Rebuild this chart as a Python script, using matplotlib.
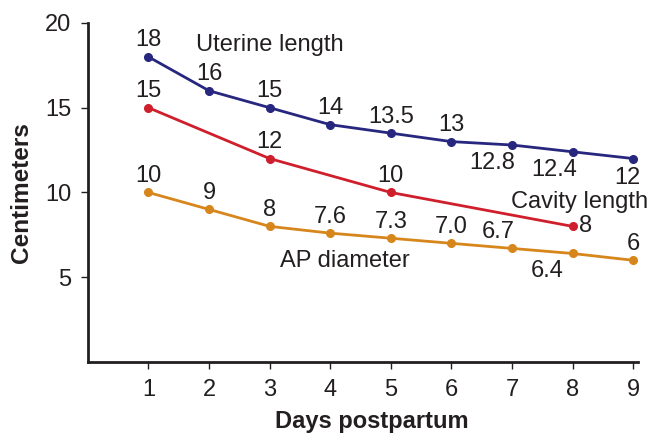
import matplotlib
matplotlib.use("Agg")
import matplotlib.pyplot as plt

plt.rcParams['font.family'] = ['Liberation Sans', 'DejaVu Sans']

days = [1, 2, 3, 4, 5, 6, 7, 8, 9]
uterine = [18, 16, 15, 14, 13.5, 13, 12.8, 12.4, 12]
uterine_labels = ["18", "16", "15", "14", "13.5", "13", "12.8", "12.4", "12"]
cavity_days = [1, 3, 5, 8]
cavity = [15, 12, 10, 8]
cavity_labels = ["15", "12", "10", "8"]
ap = [10, 9, 8, 7.6, 7.3, 7.0, 6.7, 6.4, 6]
ap_labels = ["10", "9", "8", "7.6", "7.3", "7.0", "6.7", "6.4", "6"]

c_ut = "#27277f"
c_cav = "#cf1f2c"
c_ap = "#d6861b"
tc = "#231f20"

fig = plt.figure(figsize=(6.51, 4.33), dpi=100)
ax = fig.add_axes([0.135, 0.164, 0.845, 0.783])

ax.plot(days, uterine, color=c_ut, lw=2, marker='o', ms=5.5)
ax.plot(cavity_days, cavity, color=c_cav, lw=2, marker='o', ms=5.5)
ax.plot(days, ap, color=c_ap, lw=2, marker='o', ms=5.5)

fs = 17
# offsets in points (1pt = 1.39px at 100 dpi)
ut_off = [(0, 4), (0, 4), (0, 4), (0, 4), (0, 4), (0, 4), (-14, -5), (-13, -5), (-4, -6)]
for d, v, t, o in zip(days, uterine, uterine_labels, ut_off):
    ax.annotate(t, (d, v), xytext=o, textcoords='offset points',
                ha='center', va='bottom' if o[1] > 0 else 'top', fontsize=fs, color=tc)
cav_off = [(0, 4), (0, 4), (0, 4), None]
for d, v, t, o in zip(cavity_days, cavity, cavity_labels, cav_off):
    if o is None:
        ax.annotate(t, (d, v), xytext=(5, 0), textcoords='offset points',
                    ha='left', va='center', fontsize=fs, color=tc)
    else:
        ax.annotate(t, (d, v), xytext=o, textcoords='offset points',
                    ha='center', va='bottom', fontsize=fs, color=tc)
ap_off = [(0, 4), (0, 4), (0, 4), (0, 4), (0, 4), (0, 4), (-10, 4), (-18, -5), (0, 4)]
for d, v, t, o in zip(days, ap, ap_labels, ap_off):
    ax.annotate(t, (d, v), xytext=o, textcoords='offset points',
                ha='center', va='bottom' if o[1] > 0 else 'top', fontsize=fs, color=tc)

ax.text(3.0, 18.7, "Uterine length", fontsize=fs, color=tc, ha='center', va='center')
ax.text(8.12, 9.45, "Cavity length", fontsize=fs, color=tc, ha='center', va='center')
ax.text(4.24, 5.94, "AP diameter", fontsize=fs, color=tc, ha='center', va='center')

ax.set_xlim(0, 9.08)
ax.set_ylim(0, 20)
ax.set_xticks(days)
ax.set_yticks([5, 10, 15, 20])
ax.spines['top'].set_visible(False)
ax.spines['right'].set_visible(False)
for s in ['left', 'bottom']:
    ax.spines[s].set_linewidth(2)
    ax.spines[s].set_color(tc)
ax.tick_params(axis='both', labelsize=fs, colors=tc, length=5, width=1, pad=7)
ax.set_xlabel("Days postpartum", fontsize=17, fontweight='bold', color=tc, va='center')
ax.set_ylabel("Centimeters", fontsize=17.6, fontweight='bold', color=tc, va='center')
ax.xaxis.set_label_coords(0.516, -0.177)
ax.yaxis.set_label_coords(-0.12, 0.5)

fig.savefig("out.png", dpi=100)
